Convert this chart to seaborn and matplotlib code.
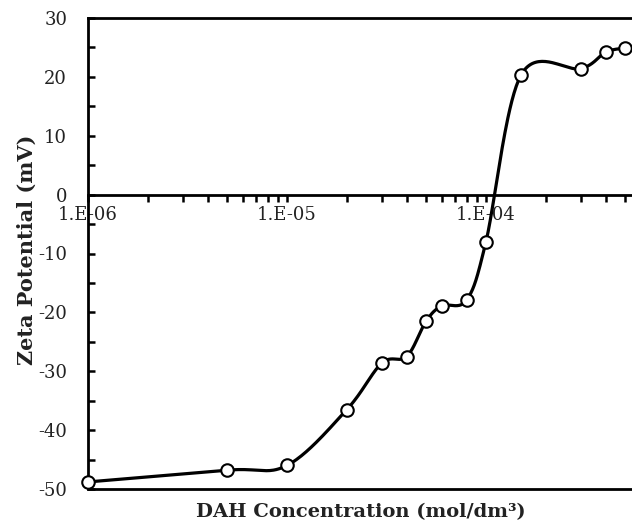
import numpy as np
import matplotlib
matplotlib.use("Agg")
import matplotlib.pyplot as plt
import matplotlib.ticker as mticker
import seaborn as sns
import pandas as pd

# ---- data ----
conc = [1e-6, 5e-6, 1e-5, 2e-5, 3e-5, 4e-5, 5e-5, 6e-5, 8e-5, 1e-4, 1.5e-4, 3e-4, 4e-4, 5e-4]
zeta = [-48.8, -46.8, -46.0, -36.5, -28.6, -27.5, -21.5, -18.9, -17.9, -8.0, 20.3, 21.4, 24.2, 24.9]
xticks_major = [1e-6, 1e-5, 1e-4]
xtick_labels = ["1.E-06", "1.E-05", "1.E-04"]
yticks_major = [30, 20, 10, 0, -10, -20, -30, -40, -50]

sns.set_theme(style="white")
plt.rcParams['font.family'] = ['DejaVu Serif']
plt.rcParams['axes.unicode_minus'] = False

W, H = 632, 530
fig = plt.figure(figsize=(W / 100, H / 100), dpi=100)
ax = fig.add_axes([88 / W, 41 / H, (W - 88) / W, (489 - 18) / H])

# smooth curve (Excel-like Bezier smoothing in scaled display space)
sx, sy = 199.0, 5.89
u = (np.log10(conc) + 6) * sx
v = np.array(zeta) * sy
P = np.column_stack([u, v])
n = len(P)
curve = []
for i in range(n - 1):
    p0 = P[i - 1] if i > 0 else P[i]
    p1, p2 = P[i], P[i + 1]
    p3 = P[i + 2] if i + 2 < n else P[i + 1]
    c1 = p1 + (p2 - p0) / 6
    c2 = p2 - (p3 - p1) / 6
    t = np.linspace(0, 1, 40)[:, None]
    seg = (1 - t) ** 3 * p1 + 3 * (1 - t) ** 2 * t * c1 + 3 * (1 - t) * t ** 2 * c2 + t ** 3 * p2
    curve.append(seg if i == 0 else seg[1:])
curve = np.vstack(curve)
smooth = pd.DataFrame({"x": 10 ** (curve[:, 0] / sx - 6), "y": curve[:, 1] / sy})
pts = pd.DataFrame({"x": conc, "y": zeta})

sns.lineplot(data=smooth, x="x", y="y", ax=ax, color="black", lw=2.3, sort=False,
             estimator=None, zorder=3)
ax.plot(pts["x"], pts["y"], ls="none", marker="o", ms=9, mfc="white", mec="black",
        mew=1.5, zorder=4, clip_on=False)

ax.set_xscale("log")
ax.set_xlim(1e-6, 5.42e-4)
ax.set_ylim(-50, 30)

# spines
for s in ["left", "top", "bottom"]:
    ax.spines[s].set_visible(True)
    ax.spines[s].set_color("black")
    ax.spines[s].set_linewidth(2.0)
ax.spines["right"].set_visible(False)
ax.spines["bottom"].set_position(("data", 0))
ax.axhline(-50, color="black", lw=2.0, clip_on=False, zorder=2.6)

# x ticks
ax.xaxis.set_major_locator(mticker.FixedLocator(xticks_major))
ax.xaxis.set_major_formatter(mticker.FixedFormatter(xtick_labels))
ax.xaxis.set_minor_locator(mticker.LogLocator(base=10, subs=np.arange(2, 10)))
ax.xaxis.set_minor_formatter(mticker.NullFormatter())
ax.tick_params(axis="x", which="both", direction="out", length=5, width=1.8,
               color="black", bottom=True, labelsize=13, pad=3.5, labelcolor="#222222")

# y ticks
ax.set_yticks(yticks_major)
ax.yaxis.set_minor_locator(mticker.MultipleLocator(5))
ax.tick_params(axis="y", which="both", direction="in", length=5, width=1.8,
               color="black", left=True, labelsize=13, pad=15, labelcolor="#222222")

ax.set_xlabel("")
ax.set_ylabel("")
fig.text(361 / W, 1 - 512 / H, "DAH Concentration (mol/dm³)", ha="center", va="center",
         fontsize=14, fontweight="bold", color="#222222")
fig.text(27 / W, 1 - 250 / H, "Zeta Potential (mV)", ha="center", va="center",
         rotation=90, fontsize=15, fontweight="bold", color="#222222")

fig.savefig("out.png", dpi=100)
